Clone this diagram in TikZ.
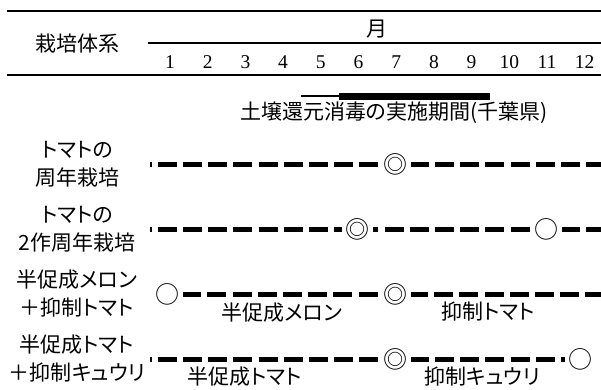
\documentclass[tikz,border=0pt]{standalone}
\usepackage{fontspec}
\setmainfont[RawFeature={+palt}]{Noto Sans CJK JP}
\newfontfamily\numfont{Liberation Serif}
\usetikzlibrary{backgrounds}

\begin{document}
\begin{tikzpicture}[x=1pt,y=-1pt,
	rule/.style={line width=2.8pt},
	sysname/.style={align=center, font=\fontsize{21}{28}\selectfont, inner sep=0pt},
	month/.style={font=\numfont\fontsize{19.5}{20}\selectfont, inner sep=0pt},
	crop/.style={font=\fontsize{21}{21}\selectfont, inner sep=0pt},
	sym/.style={fill=white, inner sep=3.5pt, font=\fontsize{24}{24}\selectfont},
	rowline/.style={line width=5pt, dash pattern=on 19pt off 6.2pt, dash phase=17.5pt},
	]
	\useasboundingbox (0,0) rectangle (601,389);

	% header
	\draw[rule] (7,11) -- (601,11);
	\draw[rule] (148,43) -- (601,43);
	\draw[rule] (7,75) -- (601,75);
	\node[sysname] (head) at (77,44) {栽培体系};
	\node[crop] (mon) at (377,29) {月};
	\foreach \m in {1,...,12}
		\node[month] (m\m) at ({170+(\m-1)*37.7},62) {\m};

	% period of soil reduction
	\draw[line width=2.5pt] (301,96) -- (339,96);
	\fill (339,93) rectangle (490,100);
	\node[crop] (solar) at (394,113) {土壌還元消毒の実施期間(千葉県)};

	% cropping systems
	\node[sysname] (sys1) at (77,164) {トマトの\\周年栽培};
	\node[sysname] (sys2) at (77,229) {トマトの\\2作周年栽培};
	\node[sysname] (sys3) at (77,294) {半促成メロン\\＋抑制トマト};
	\node[sysname] (sys4) at (77,359) {半促成トマト\\＋抑制キュウリ};

	\coordinate (r1s) at (150,164);
	\coordinate (r1e) at (601,164);
	\node[sym] (r1a) at (395,164) {◎};

	\coordinate (r2s) at (150,229);
	\coordinate (r2e) at (601,229);
	\node[sym] (r2a) at (357,229) {◎};
	\node[sym] (r2b) at (546,229) {○};

	\node[sym] (r3a) at (167,294) {○};
	\node[sym] (r3b) at (395,294) {◎};
	\coordinate (r3e) at (601,294);

	\coordinate (r4s) at (150,359);
	\node[sym] (r4a) at (395,359) {◎};
	\node[sym] (r4b) at (580,359) {○};

	\node[crop] (melon) at (282,313) {半促成メロン};
	\node[crop] (tomato3) at (488,312) {抑制トマト};
	\node[crop] (tomato4) at (245,377) {半促成トマト};
	\node[crop] (cucumber) at (482,377) {抑制キュウリ};

	\begin{pgfonlayer}{background}
		\draw[rowline] (r1s) -- (r1e);
		\draw[rowline] (r2s) -- (r2e);
		\draw[rowline, dash phase=10pt] (r3a.center) -- (r3e);
		\draw[rowline] (r4s) -- (r4b.center);
	\end{pgfonlayer}
\end{tikzpicture}
\end{document}
